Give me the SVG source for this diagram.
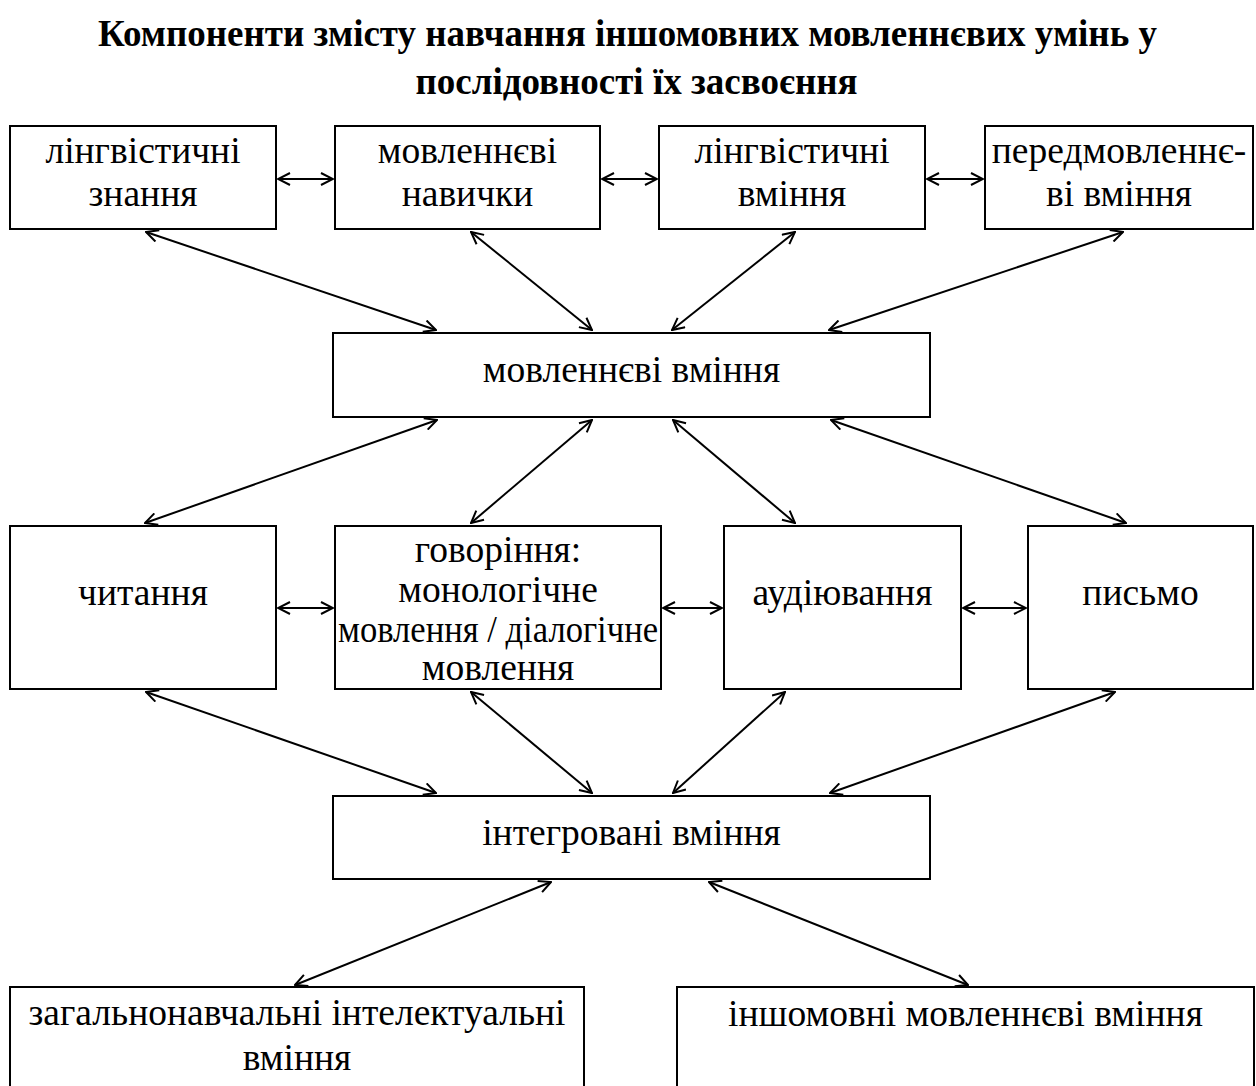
<svg xmlns="http://www.w3.org/2000/svg" width="1256" height="1086" viewBox="0 0 1256 1086">
<defs>
<marker id="ah" viewBox="0 0 14 14" refX="13" refY="7" markerWidth="14" markerHeight="14" markerUnits="userSpaceOnUse" orient="auto-start-reverse">
<path d="M1,1 L13,7 L1,13" fill="none" stroke="#000" stroke-width="2"/>
</marker>
</defs>
<style>
.box{fill:#fff;stroke:#000;stroke-width:2}
.t{font-family:"Liberation Serif","Times New Roman",serif;font-size:37.5px;fill:#000;text-anchor:middle}
.title{font-family:"Liberation Serif","Times New Roman",serif;font-size:37px;font-weight:bold;fill:#000;text-anchor:middle}
.c line{stroke:#000;stroke-width:2;marker-start:url(#ah);marker-end:url(#ah)}
</style>
<rect width="1256" height="1086" fill="#fff"/>
<g id="title">
<text class="title" x="627.5" y="46">Компоненти змісту навчання іншомовних мовленнєвих умінь у</text>
<text class="title" x="636.5" y="94">послідовності їх засвоєння</text>
</g>
<g id="n-ling-znannia"><rect class="box" x="10" y="126" width="266" height="103"/><text class="t" x="143" y="163">лінгвістичні</text><text class="t" x="143" y="206">знання</text></g>
<g id="n-movl-navychky"><rect class="box" x="335" y="126" width="265" height="103"/><text class="t" x="467.5" y="163">мовленнєві</text><text class="t" x="467.5" y="206">навички</text></g>
<g id="n-ling-vminnia"><rect class="box" x="659" y="126" width="266" height="103"/><text class="t" x="792" y="163">лінгвістичні</text><text class="t" x="792" y="206">вміння</text></g>
<g id="n-peredmovl"><rect class="box" x="985" y="126" width="268" height="103"/><text class="t" x="1119" y="163">передмовленнє-</text><text class="t" x="1119" y="206">ві вміння</text></g>
<g id="n-movl-vminnia"><rect class="box" x="333" y="333" width="597" height="84"/><text class="t" x="631.5" y="382">мовленнєві вміння</text></g>
<g id="n-chytannia"><rect class="box" x="10" y="526" width="266" height="163"/><text class="t" x="143" y="605">читання</text></g>
<g id="n-hovorinnia"><rect class="box" x="335" y="526" width="326" height="163"/><text class="t" x="498" y="562">говоріння:</text><text class="t" x="498" y="602">монологічне</text><text class="t" x="498" y="642" textLength="320" lengthAdjust="spacingAndGlyphs">мовлення / діалогічне</text><text class="t" x="498" y="680">мовлення</text></g>
<g id="n-audiuvannia"><rect class="box" x="724" y="526" width="237" height="163"/><text class="t" x="842.5" y="605">аудіювання</text></g>
<g id="n-pysmo"><rect class="box" x="1028" y="526" width="225" height="163"/><text class="t" x="1140.5" y="605">письмо</text></g>
<g id="n-intehr"><rect class="box" x="333" y="796" width="597" height="83"/><text class="t" x="631.5" y="845">інтегровані вміння</text></g>
<g id="n-zahalno"><rect class="box" x="10" y="987" width="574" height="110"/><text class="t" x="297" y="1025">загальнонавчальні інтелектуальні</text><text class="t" x="297" y="1070">вміння</text></g>
<g id="n-inshomovni"><rect class="box" x="677" y="987" width="577" height="110"/><text class="t" x="965.5" y="1026">іншомовні мовленнєві вміння</text></g>
<g id="connectors" class="c">
<line x1="278" y1="179" x2="333" y2="179"/>
<line x1="602" y1="179" x2="657" y2="179"/>
<line x1="927" y1="179" x2="983" y2="179"/>
<line x1="146" y1="232" x2="436" y2="330"/>
<line x1="471" y1="232" x2="592" y2="330"/>
<line x1="795" y1="232" x2="672" y2="330"/>
<line x1="1123" y1="232" x2="829" y2="330"/>
<line x1="437" y1="420" x2="145" y2="523"/>
<line x1="592" y1="420" x2="471" y2="523"/>
<line x1="673" y1="420" x2="795" y2="523"/>
<line x1="831" y1="420" x2="1126" y2="523"/>
<line x1="278" y1="608" x2="333" y2="608"/>
<line x1="663" y1="608" x2="722" y2="608"/>
<line x1="963" y1="608" x2="1026" y2="608"/>
<line x1="146" y1="692" x2="436" y2="793"/>
<line x1="471" y1="692" x2="592" y2="793"/>
<line x1="785" y1="692" x2="673" y2="793"/>
<line x1="1115" y1="692" x2="830" y2="793"/>
<line x1="551" y1="882" x2="295" y2="985"/>
<line x1="709" y1="882" x2="968" y2="985"/>
</g>
</svg>
